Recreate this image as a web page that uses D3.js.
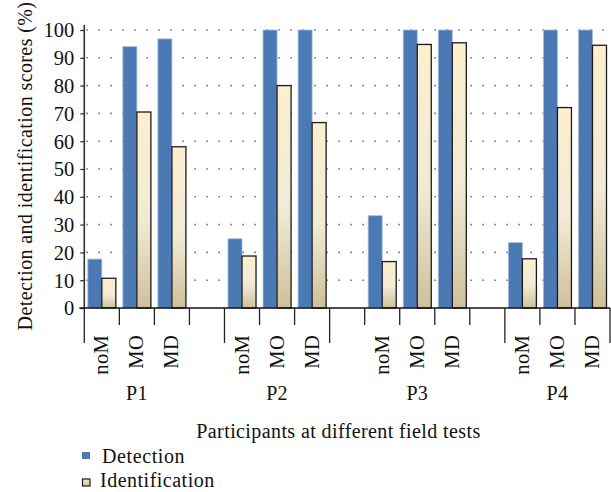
<!DOCTYPE html>
<html><head><meta charset="utf-8">
<script src="https://cdn.jsdelivr.net/npm/d3@7"></script>
<style>
html,body{margin:0;padding:0;background:#fff;}
text{font-family:"Liberation Serif","Times New Roman",serif;fill:#111;}
</style></head>
<body><svg id="chart" width="611" height="492"></svg>
<script>
const groups = ["P1","P2","P3","P4"];
const conditions = ["noM","MO","MD"];
const detection =      [17.6, 94.0, 96.8, 24.9, 100, 100, 33.2, 100, 100, 23.5, 100, 100];
const identification = [10.7, 70.5, 58.0, 18.7, 80.0, 66.7, 16.7, 94.8, 95.4, 17.7, 72.1, 94.5];
const yTicks = [0,10,20,30,40,50,60,70,80,90,100];
const seriesNames = ["Detection","Identification"];
const yTitle = "Detection and identification scores (%)";
const xTitle = "Participants at different field tests";

// slot layout (Excel-style multi-level axis with blank categories)
const slots = ["P1|noM","P1|MO","P1|MD","gap1","P2|noM","P2|MO","P2|MD","gap2","P3|noM","P3|MO","P3|MD","gap3","P4|noM","P4|MO","P4|MD"];
const groupSpans = [["P1|noM","gap1"],["P2|noM","P2|MD"],["gap2","gap3"],["P4|noM","P4|MD"]];

const svg = d3.select("#chart");
const L = 84.3, R = 610, T = 30, B = 308;

const x = d3.scaleBand().domain(slots).range([L, R]).padding(0);
const xs = d3.scaleBand().domain(["det","id"]).range([0, x.bandwidth()]).paddingInner(0).paddingOuter(0.25);
const y = d3.scaleLinear().domain([0,100]).range([B, T]);

const defs = svg.append("defs");
const grad = defs.append("linearGradient").attr("id","idGrad").attr("x1",0).attr("x2",0).attr("y1",0).attr("y2",1);
grad.append("stop").attr("offset","0%").attr("stop-color","#fdefcf");
grad.append("stop").attr("offset","55%").attr("stop-color","#f1ead5");
grad.append("stop").attr("offset","100%").attr("stop-color","#cfc09b");
const lgrad = defs.append("linearGradient").attr("id","idGradL").attr("x1",0).attr("x2",0).attr("y1",0).attr("y2",1);
lgrad.append("stop").attr("offset","0%").attr("stop-color","#f3e8c8");
lgrad.append("stop").attr("offset","100%").attr("stop-color","#d6c7a2");

// grid
svg.append("g").selectAll("line").data(yTicks.filter(d=>d>0)).join("line")
  .attr("x1", L+2).attr("x2", R).attr("y1", d=>y(d)).attr("y2", d=>y(d))
  .attr("stroke","#777").attr("stroke-width",1.6).attr("stroke-dasharray","1.6,10.4");

// data rows
const rows = [];
groups.forEach((g,gi)=>conditions.forEach((c,ci)=>{
  const i = gi*conditions.length+ci;
  rows.push({key:g+"|"+c, det:detection[i], id:identification[i]});
}));

// bars
const bars = svg.append("g");
bars.selectAll("rect.det").data(rows).join("rect").attr("class","det")
  .attr("x", d=>x(d.key)+xs("det")).attr("width", xs.bandwidth())
  .attr("y", d=>y(d.det)).attr("height", d=>B-y(d.det))
  .attr("fill","#4a79b3").attr("stroke","#a7bedc").attr("stroke-width",0.8);
bars.selectAll("rect.id").data(rows).join("rect").attr("class","id")
  .attr("x", d=>x(d.key)+xs("id")).attr("width", xs.bandwidth())
  .attr("y", d=>y(d.id)).attr("height", d=>B-y(d.id))
  .attr("fill","url(#idGrad)").attr("stroke","#1a1a1a").attr("stroke-width",1.3);

// y axis
const yAxis = d3.axisLeft(y).tickValues(yTicks).tickSize(4).tickFormat(d3.format("d"));
const ya = svg.append("g").attr("transform",`translate(${L},0)`).call(yAxis);
ya.select(".domain").remove();
ya.selectAll(".tick line").attr("stroke","#333").attr("stroke-width",1.3);
ya.selectAll(".tick text").attr("x",-10).attr("dy","0.34em")
  .style("font-family",'"Liberation Serif",serif').style("font-size","20.5px").attr("fill","#111");
svg.append("line").attr("x1",L).attr("x2",L).attr("y1",T-5).attr("y2",B).attr("stroke","#333").attr("stroke-width",1.6);

// x axis baseline
svg.append("line").attr("x1",L-5).attr("x2",R).attr("y1",B).attr("y2",B).attr("stroke","#111").attr("stroke-width",1.6);

// x ticks: short at every slot boundary, long at group boundaries
const boundaries = slots.map(s=>x(s)).concat([R]);
const longSet = new Set([x(groupSpans[0][0])].concat(groupSpans.map(s=>x(s[1])+x.bandwidth())).map(v=>Math.round(v)));
svg.append("g").selectAll("line").data(boundaries).join("line")
  .attr("x1", d=>d).attr("x2", d=>d).attr("y1", B)
  .attr("y2", d=>longSet.has(Math.round(d)) ? 343 : 325)
  .attr("stroke","#222").attr("stroke-width",1.3);

// sub labels
svg.append("g").selectAll("text").data(rows).join("text")
  .attr("transform", d=>`translate(${x(d.key)+x.bandwidth()/2+6.5},335) rotate(-90)`)
  .attr("text-anchor","end").style("font-size","20.5px").style("letter-spacing","0.3px")
  .text(d=>d.key.split("|")[1]);

// group labels (centered under the condition bars)
svg.append("g").selectAll("text").data(groups).join("text")
  .attr("x", g=>{const a=x(g+"|"+conditions[0]), b=x(g+"|"+conditions[conditions.length-1])+x.bandwidth(); return (a+b)/2;})
  .attr("y", 400).attr("text-anchor","middle").style("font-size","20px").style("letter-spacing","0.3px")
  .text(g=>g);

// x title
svg.append("text").attr("x",(197+480)/2).attr("y",438).attr("text-anchor","middle")
  .style("font-size","20px").style("letter-spacing","0.4px").text(xTitle);

// y title
svg.append("text").attr("transform","translate(32,166) rotate(-90)").attr("text-anchor","middle")
  .style("font-size","20px").style("letter-spacing","0.4px").text(yTitle);

// legend
const lg = svg.append("g");
lg.append("rect").attr("x",82).attr("y",452).attr("width",8).attr("height",7).attr("fill","#4a79b3");
lg.append("text").attr("x",102).attr("y",463).style("font-size","20px").style("letter-spacing","0.6px").text(seriesNames[0]);
lg.append("rect").attr("x",82.5).attr("y",479).attr("width",7.5).attr("height",7).attr("fill","url(#idGradL)").attr("stroke","#1a1a1a").attr("stroke-width",1.2);
lg.append("text").attr("x",100).attr("y",487).style("font-size","20px").style("letter-spacing","0.5px").text(seriesNames[1]);
</script></body></html>
